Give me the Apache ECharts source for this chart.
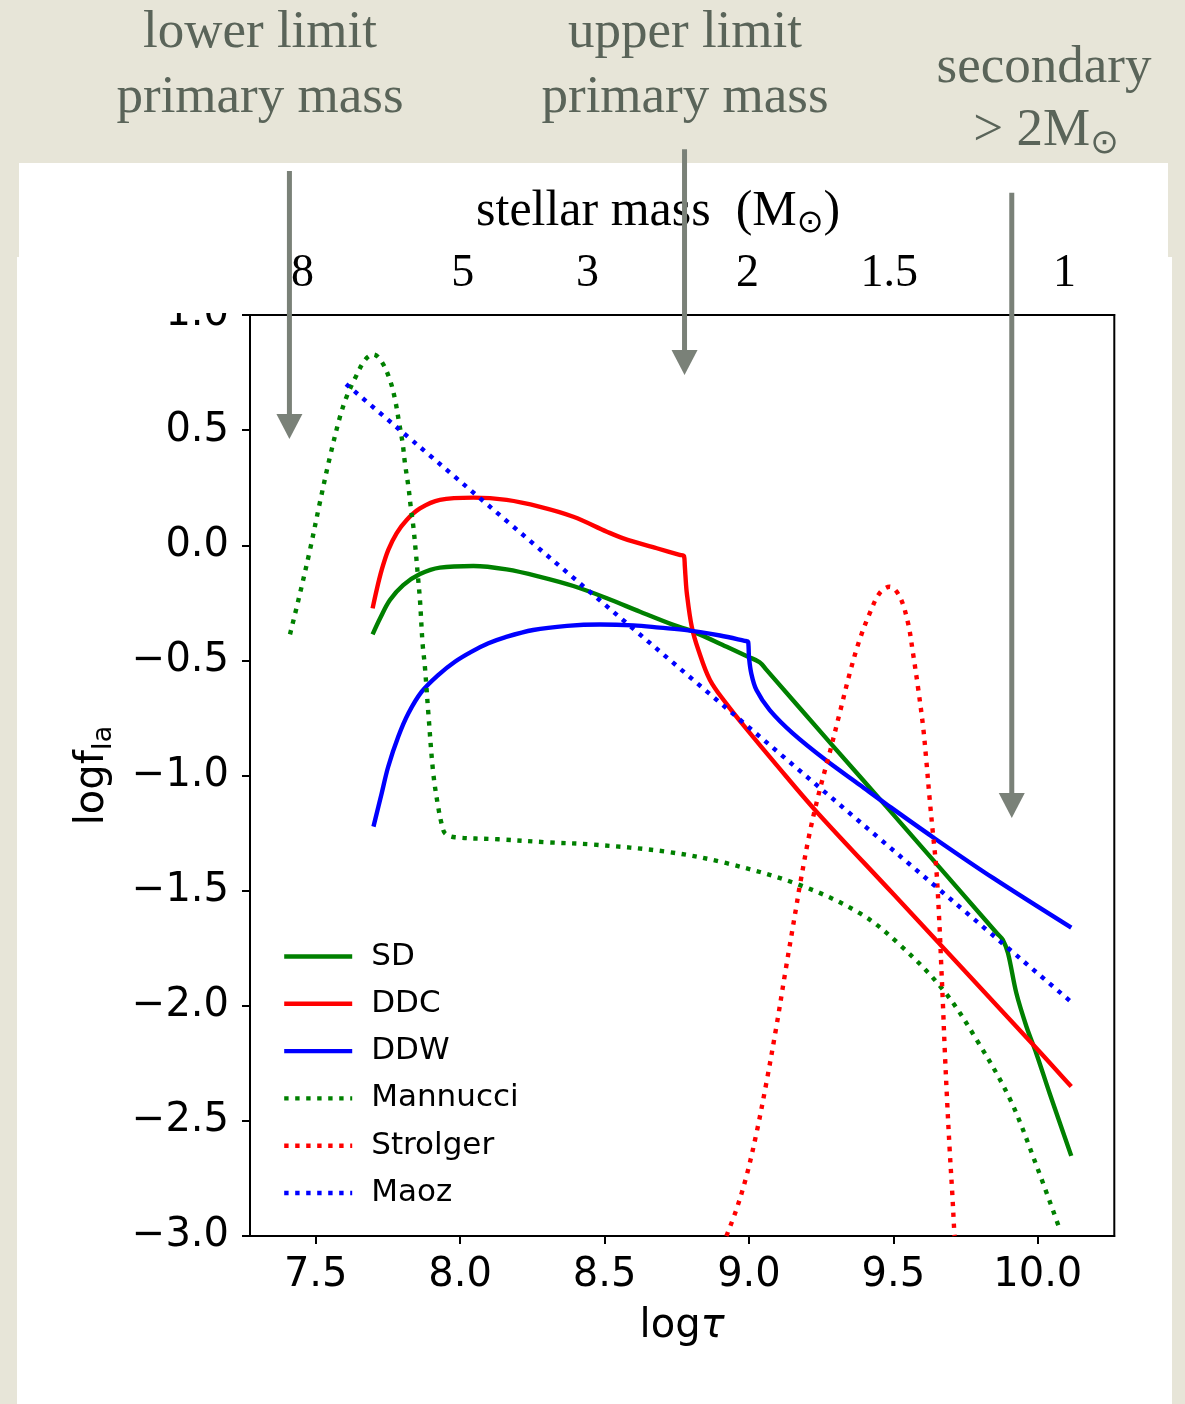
<!DOCTYPE html>
<html><head><meta charset="utf-8">
<script src="https://cdn.jsdelivr.net/npm/echarts@6/dist/echarts.min.js"></script>
<style>html,body{margin:0;padding:0;background:#e7e5d8}#c{width:1185px;height:1404px}</style>
</head><body><div id="c"></div>
<script>
// ---- data ----
const xTickValues = [7.5, 8.0, 8.5, 9.0, 9.5, 10.0];
const massLabels = ['8', '5', '3', '2', '1.5', '1'];
const massPos = [7.454, 8.009, 8.441, 8.995, 9.486, 10.093];

const sdData = [[7.697,-0.387],[7.723,-0.317],[7.757,-0.238],[7.803,-0.173],[7.861,-0.125],[7.930,-0.097],[8.046,-0.090],[8.161,-0.105],[8.277,-0.137],[8.392,-0.177],[8.508,-0.230],[8.623,-0.289],[8.738,-0.346],[8.807,-0.375],[8.923,-0.441],[8.997,-0.484],[9.037,-0.508],[9.060,-0.540],[9.286,-0.865],[9.476,-1.135],[9.860,-1.687],[9.879,-1.714],[9.897,-1.772],[9.926,-1.946],[9.961,-2.091],[9.995,-2.207],[10.041,-2.380],[10.116,-2.652]];
const ddcData = [[7.697,-0.274],[7.711,-0.194],[7.7285,-0.107],[7.751,-0.021],[7.780,0.052],[7.815,0.110],[7.861,0.160],[7.930,0.197],[8.046,0.207],[8.161,0.197],[8.277,0.167],[8.392,0.124],[8.508,0.059],[8.565,0.030],[8.681,-0.013],[8.760,-0.042],[8.775,-0.047],[8.778,-0.090],[8.780,-0.130],[8.785,-0.209],[8.802,-0.354],[8.825,-0.455],[8.865,-0.585],[8.923,-0.690],[8.980,-0.780],[9.096,-0.955],[9.234,-1.157],[9.500,-1.515],[9.985,-2.170],[10.116,-2.351]];
const ddwData = [[7.700,-1.222],[7.7285,-1.077],[7.751,-0.962],[7.786,-0.831],[7.821,-0.730],[7.867,-0.636],[7.924,-0.564],[7.982,-0.506],[8.040,-0.462],[8.098,-0.426],[8.155,-0.400],[8.253,-0.368],[8.370,-0.350],[8.484,-0.344],[8.600,-0.348],[8.691,-0.358],[8.790,-0.370],[8.900,-0.392],[8.985,-0.415],[8.997,-0.419],[8.999,-0.450],[9.000,-0.484],[9.008,-0.556],[9.026,-0.629],[9.072,-0.716],[9.152,-0.817],[9.268,-0.935],[9.383,-1.040],[9.476,-1.125],[9.637,-1.268],[9.845,-1.445],[10.116,-1.661]];
const mannucciData = [[7.411,-0.387],[7.4456,-0.209],[7.480,-0.021],[7.515,0.189],[7.5495,0.385],[7.584,0.558],[7.607,0.645],[7.636,0.725],[7.671,0.805],[7.700,0.829],[7.7285,0.797],[7.757,0.718],[7.775,0.631],[7.789,0.530],[7.801,0.443],[7.809,0.356],[7.821,0.254],[7.829,0.167],[7.838,0.081],[7.847,-0.035],[7.855,-0.151],[7.861,-0.238],[7.870,-0.426],[7.878,-0.527],[7.890,-0.730],[7.907,-0.990],[7.924,-1.136],[7.937,-1.215],[7.948,-1.251],[7.982,-1.268],[8.132,-1.277],[8.300,-1.290],[8.460,-1.300],[8.715,-1.331],[8.923,-1.381],[9.177,-1.476],[9.385,-1.599],[9.523,-1.736],[9.673,-1.932],[9.789,-2.149],[9.905,-2.409],[9.997,-2.699],[10.077,-2.974]];
const strolgerData = [[8.922,-3.0],[8.956,-2.887],[8.991,-2.742],[9.026,-2.554],[9.060,-2.337],[9.095,-2.091],[9.129,-1.830],[9.164,-1.570],[9.1755,-1.483],[9.210,-1.251],[9.245,-1.063],[9.279,-0.904],[9.314,-0.730],[9.349,-0.556],[9.383,-0.411],[9.418,-0.296],[9.452,-0.209],[9.487,-0.180],[9.522,-0.223],[9.551,-0.339],[9.568,-0.469],[9.585,-0.614],[9.603,-0.788],[9.614,-0.933],[9.626,-1.106],[9.637,-1.251],[9.649,-1.410],[9.660,-1.657],[9.666,-1.830],[9.672,-2.004],[9.678,-2.192],[9.686,-2.409],[9.695,-2.626],[9.704,-2.815],[9.710,-2.960],[9.712,-3.0]];
const maozData = [[7.605,0.700],[10.121,-1.989]];

// arrows: [logtau, yTop, yTip] in data units
const arrows = [[7.409, 1.625, 0.4615],[8.777, 1.720, 0.739],[9.910, 1.531, -1.185]];

const SERIF = "'Liberation Serif', 'DejaVu Serif', serif";
const SANS = "'DejaVu Sans', sans-serif";
const annColor = '#5a6459';
const LW = 4.4;

const chart = echarts.init(document.getElementById('c'), null, {renderer: 'canvas'});

function mk(name, data, color, dotted) {
  return {
    name: name, type: 'line', data: data, symbol: 'none', showSymbol: false,
    smooth: 0.35, animation: false, clip: true, z: 3,
    itemStyle: {color: color},
    lineStyle: {color: color, width: LW, type: dotted ? [4.4, 6.6] : 'solid', cap: 'butt', join: 'round'}
  };
}

chart.setOption({
  backgroundColor: '#e7e5d8',
  animation: false,
  grid: {left: 250, top: 315, width: 864.3, height: 921, show: true, borderColor: '#000', borderWidth: 2, backgroundColor: '#fff', z: 1},
  xAxis: [{
    type: 'value', min: 7.2725, max: 10.265, position: 'bottom',
    axisLine: {show: true, onZero: false, lineStyle: {color: '#000', width: 2}},
    axisTick: {show: true, customValues: xTickValues, length: 8, lineStyle: {color: '#000', width: 2}},
    axisLabel: {customValues: xTickValues, fontSize: 40, fontFamily: SANS, color: '#000', margin: 20,
      formatter: v => v.toFixed(1)},
    splitLine: {show: false},
    name: '{a|log}{b|τ}', nameLocation: 'middle', nameGap: 71,
    nameTextStyle: {rich: {a: {fontSize: 40, fontFamily: SANS, color: '#000'}, b: {fontSize: 40, fontFamily: SANS, fontStyle: 'italic', color: '#000'}}}
  }, {
    type: 'value', min: 7.2725, max: 10.265, position: 'top', z: 20,
    axisLine: {show: true, onZero: false, lineStyle: {color: '#000', width: 2}},
    axisTick: {show: false},
    axisLabel: {customValues: massPos, fontSize: 46, fontFamily: SERIF, color: '#000', margin: 18,
      formatter: v => { for (let i = 0; i < massPos.length; i++) if (Math.abs(massPos[i] - v) < 1e-6) return massLabels[i]; return ''; }},
    splitLine: {show: false},
    name: '{a|stellar mass  (M}{s|⊙}{a|)}', nameLocation: 'middle', nameGap: 75,
    nameTextStyle: {padding: [0, 48, 0, 0], rich: {
      a: {fontSize: 50, fontFamily: SERIF, color: '#000', lineHeight: 56, verticalAlign: 'middle'},
      s: {fontSize: 32, fontFamily: "'DejaVu Sans'", color: '#000', lineHeight: 42, verticalAlign: 'bottom'}
    }}
  }],
  yAxis: {
    type: 'value', min: -3, max: 1, interval: 0.5,
    axisLine: {show: true, onZero: false, lineStyle: {color: '#000', width: 2}},
    axisTick: {show: true, length: 8, lineStyle: {color: '#000', width: 2}},
    axisLabel: {fontSize: 40, fontFamily: SANS, color: '#000', margin: 21,
      formatter: v => v.toFixed(1).replace('-', '\u2212')},
    splitLine: {show: false},
    name: '{a|logf}{b|Ia}', nameLocation: 'middle', nameRotate: 90, nameGap: 133,
    nameTextStyle: {rich: {
      a: {fontSize: 40, fontFamily: SANS, color: '#000', lineHeight: 48, verticalAlign: 'middle'},
      b: {fontSize: 27, fontFamily: SANS, color: '#000', lineHeight: 27, verticalAlign: 'bottom'}
    }}
  },
  legend: {
    orient: 'vertical', left: 277, top: 936, itemWidth: 68, itemHeight: 1, itemGap: 16.3,
    data: ['SD', 'DDC', 'DDW', 'Mannucci', 'Strolger', 'Maoz'],
    lineStyle: {width: LW},
    textStyle: {fontSize: 31, lineHeight: 31, fontFamily: SANS, color: '#000', padding: [0, 0, 0, 14]},
    backgroundColor: 'transparent', borderWidth: 0
  },
  series: [
    mk('SD', sdData, '#008000', false),
    mk('DDC', ddcData, '#ff0000', false),
    mk('DDW', ddwData, '#0000ff', false),
    mk('Mannucci', mannucciData, '#008000', true),
    mk('Strolger', strolgerData, '#ff0000', true),
    mk('Maoz', maozData, '#0000ff', true)
  ]
});

// ---- annotations ----
const g = [];
g.push({type: 'rect', z: -10, shape: {x: 17, y: 257, width: 1155, height: 1147}, style: {fill: '#fff'}, silent: true});
g.push({type: 'rect', z: 10, shape: {x: 19, y: 163, width: 1149, height: 150}, style: {fill: '#fff'}, silent: true});
const arrowColor = '#7a8178';
arrows.forEach(a => {
  const top = chart.convertToPixel({xAxisIndex: 0, yAxisIndex: 0}, [a[0], a[1]]);
  const tip = chart.convertToPixel({xAxisIndex: 0, yAxisIndex: 0}, [a[0], a[2]]);
  const hx = tip[0];
  g.push({type: 'line', z: 100, shape: {x1: hx, y1: top[1], x2: hx, y2: tip[1] - 22}, style: {stroke: arrowColor, lineWidth: 5}, silent: true});
  g.push({type: 'polygon', z: 100, shape: {points: [[hx - 13, tip[1] - 25], [hx + 13, tip[1] - 25], [hx, tip[1]]]}, style: {fill: arrowColor}, silent: true});
});
const annTexts = [
  ['lower limit', 260, 33], ['primary mass', 260, 98],
  ['upper limit', 685, 33], ['primary mass', 685, 98],
  ['secondary', 1044, 68]
];
annTexts.forEach(t => {
  g.push({type: 'text', z: 50, x: t[1], y: t[2], style: {text: t[0], fill: annColor, font: '53px ' + SERIF, align: 'center', verticalAlign: 'middle'}, silent: true});
});
g.push({type: 'text', z: 50, x: 1046, y: 131, style: {
  text: '{a|> 2M}{s|⊙}', align: 'center', verticalAlign: 'middle',
  rich: {a: {fill: annColor, fontSize: 53, fontFamily: SERIF, lineHeight: 60, verticalAlign: 'middle'},
         s: {fill: annColor, fontSize: 34, fontFamily: "'DejaVu Sans'", lineHeight: 46, verticalAlign: 'bottom'}}
}, silent: true});
chart.setOption({graphic: g});
</script></body></html>
